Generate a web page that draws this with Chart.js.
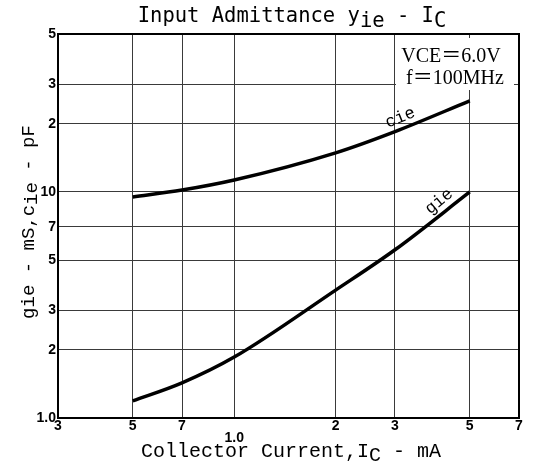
<!DOCTYPE html>
<html>
<head>
<meta charset="utf-8">
<style>
  html, body { margin: 0; padding: 0; background: #fff; }
</style>
</head>
<body>
<canvas id="out" width="533" height="468"></canvas>
<script src="https://cdn.jsdelivr.net/npm/chart.js@4/dist/chart.umd.min.js"></script>
<script>
// values (Ic in mA)
const currents = [0.5, 0.7, 1.0, 2, 3, 5];
const gieValues = [1.19, 1.43, 1.86, 3.68, 5.55, 10];
const cieValues = [9.5, 10.2, 11.3, 14.9, 18.5, 25.3];

const xTicks = [0.3, 0.5, 0.7, 1, 2, 3, 5, 7];
const xTickLabels = ['3', '5', '7', ['', '1.0'], '2', '3', '5', '7'];
const yTicks = [1, 2, 3, 5, 7, 10, 20, 30, 50];
const yTickLabels = ['1.0', '2', '3', '5', '7', '10', '2', '3', '5'];

const monoFont = '"Liberation Mono", "DejaVu Sans Mono", monospace';
const tickFont = { family: '"Liberation Sans", Arial, sans-serif', size: 14, weight: 'bold', lineHeight: 0.85 };

// draws pieces of text with subscripts one after another
function drawParts(ctx, parts, x, y, font, subDrop) {
  ctx.font = font;
  let total = 0;
  for (const p of parts) total += ctx.measureText(p.t).width;
  let cx = x - total / 2;
  for (const p of parts) {
    ctx.fillText(p.t, cx, y + (p.sub ? subDrop : 0));
    cx += ctx.measureText(p.t).width;
  }
}

const decor = {
  id: 'decor',
  beforeDatasetsDraw(chart) {
    const ctx = chart.ctx;
    // blank box behind the conditions note
    ctx.save();
    ctx.fillStyle = '#fff';
    ctx.fillRect(396, 38, 118, 52);
    ctx.restore();
  },
  afterDraw(chart) {
    const ctx = chart.ctx;
    const a = chart.chartArea;
    ctx.save();
    ctx.strokeStyle = '#000';
    ctx.lineWidth = 2;
    ctx.strokeRect(a.left, a.top, a.right - a.left, a.bottom - a.top);

    ctx.fillStyle = '#000';
    ctx.textBaseline = 'alphabetic';
    ctx.textAlign = 'left';

    // title
    drawParts(ctx, [
      { t: 'Input Admittance y' }, { t: 'ie', sub: true },
      { t: ' - I' }, { t: 'C', sub: true }
    ], 292, 22, '20.5px "DejaVu Sans Mono", monospace', 5);

    // x axis title
    drawParts(ctx, [
      { t: 'Collector Current,I' }, { t: 'C', sub: true }, { t: ' - mA' }
    ], 291, 457, '20px ' + monoFont, 4);

    // y axis title
    ctx.save();
    ctx.translate(34, 222);
    ctx.rotate(-Math.PI / 2);
    drawParts(ctx, [
      { t: 'gie - mS,c' }, { t: 'ie', sub: true }, { t: ' - pF' }
    ], 0, 0, '19px ' + monoFont, 3);
    ctx.restore();

    // conditions
    ctx.textAlign = 'center';
    ctx.font = '20px "Liberation Serif", "Noto Sans CJK JP", serif';
    ctx.fillText('VCE\uFF1D6.0V', 451, 62);
    ctx.fillText('f\uFF1D100MHz', 455, 84);

    // curve labels
    ctx.font = '17px ' + monoFont;
    ctx.save();
    ctx.translate(402, 122);
    ctx.rotate(-22 * Math.PI / 180);
    ctx.fillText('cie', 0, 0);
    ctx.restore();
    ctx.save();
    ctx.translate(442, 205);
    ctx.rotate(-40 * Math.PI / 180);
    ctx.fillText('gie', 0, 0);
    ctx.restore();
    ctx.restore();
  }
};

const points = (ys) => currents.map((x, i) => ({ x: x, y: ys[i] }));

const lineStyle = {
  borderColor: '#000',
  borderWidth: 3.5,
  pointRadius: 0,
  fill: false,
  cubicInterpolationMode: 'monotone'
};

new Chart(document.getElementById('out').getContext('2d'), {
  type: 'line',
  data: {
    datasets: [
      Object.assign({ label: 'cie', data: points(cieValues) }, lineStyle),
      Object.assign({ label: 'gie', data: points(gieValues) }, lineStyle)
    ]
  },
  options: {
    responsive: false,
    animation: false,
    events: [],
    layout: { padding: { top: 34, right: 14, left: 0, bottom: 0 } },
    plugins: { legend: { display: false }, tooltip: { enabled: false } },
    scales: {
      x: {
        type: 'logarithmic',
        min: 0.3,
        max: 7,
        afterBuildTicks: (scale) => { scale.ticks = xTicks.map(v => ({ value: v })); },
        afterFit: (scale) => { scale.height = 50; },
        ticks: {
          autoSkip: false,
          maxRotation: 0,
          padding: 2,
          color: '#000',
          font: tickFont,
          callback: (v, i) => xTickLabels[i]
        },
        grid: { color: '#3a3a3a', lineWidth: 1, tickLength: 0 },
        border: { color: '#000', width: 2 }
      },
      y: {
        type: 'logarithmic',
        min: 1,
        max: 50,
        afterBuildTicks: (scale) => { scale.ticks = yTicks.map(v => ({ value: v })); },
        afterFit: (scale) => { scale.width = 58; },
        ticks: {
          autoSkip: false,
          padding: 2,
          color: '#000',
          font: tickFont,
          callback: (v, i) => yTickLabels[i]
        },
        grid: { color: '#3a3a3a', lineWidth: 1, tickLength: 0 },
        border: { color: '#000', width: 2 }
      }
    }
  },
  plugins: [decor]
});
</script>
</body>
</html>
